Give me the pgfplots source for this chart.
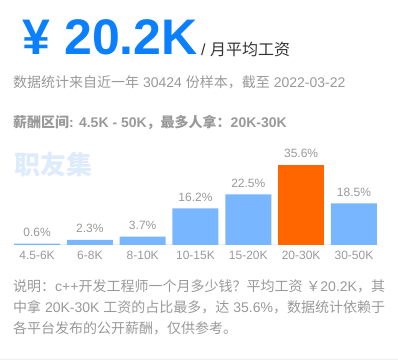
\documentclass[border=0pt]{standalone}
\usepackage{pgfplots}
\pgfplotsset{compat=1.18}
\usepackage{fontspec}
\setmainfont{Liberation Sans}
\newfontfamily\cjk{Noto Sans CJK SC}
\newcommand\zh[1]{{\cjk #1}}
\definecolor{bigblue}{HTML}{0A80FF}
\definecolor{barblue}{HTML}{78B7FF}
\definecolor{barorange}{HTML}{FF6600}
\definecolor{txtgray}{HTML}{999999}
\definecolor{wm}{HTML}{DDEBFB}
\definecolor{dark}{HTML}{333333}
\definecolor{lgray}{HTML}{EEEEEE}
\begin{document}
\begin{tikzpicture}
\useasboundingbox (0bp,0bp) rectangle (398bp,360bp);
\node[anchor=base west, inner sep=0, text=bigblue, font=\fontsize{50bp}{50bp}\selectfont\bfseries] at (22.5bp,305bp) {¥ 20.2K};
\node[anchor=base west, inner sep=0, text=dark, font=\fontsize{16bp}{18bp}\selectfont] at (201bp,304.5bp) {/ \zh{月平均工资}};
\node[anchor=base west, inner sep=0, text=txtgray, font=\fontsize{14bp}{16bp}\selectfont] at (13bp,272bp) {\zh{数据统计来自近一年} 30424 \zh{份样本，截至} 2022-03-22};
\node[anchor=base west, inner sep=0, text=txtgray, font=\fontsize{14bp}{16bp}\selectfont\bfseries] at (13bp,232bp) {\zh{薪酬区间}: 4.5K - 50K\zh{，最多人拿：}20K-30K};
\node[anchor=base west, inner sep=0, text=wm, font=\fontsize{26bp}{28bp}\selectfont\bfseries] at (14bp,185bp) {\zh{职友集}};
\begin{axis}[at={(10.6bp,115bp)}, anchor=south west, scale only axis,
  width=369.8bp, height=90.2bp,
  xmin=-0.5, xmax=6.5, ymin=0, ymax=40,
  ybar, bar shift=0pt, bar width=46bp,
  axis line style={draw=none}, major tick length=0pt, ytick=\empty,
  xtick={0,...,6},
  xticklabels={4.5-6K,6-8K,8-10K,10-15K,15-20K,20-30K,30-50K},
  xticklabel style={anchor=base, yshift=-15bp, inner sep=0, text=txtgray, font=\fontsize{12bp}{14bp}\selectfont},
  clip=false,
  nodes near coords={\pgfmathprintnumber[assume math mode=true,fixed,fixed zerofill,precision=1]{\pgfplotspointmeta}\%},
  every node near coord/.append style={anchor=base, yshift=7bp, inner sep=0, text=txtgray, font=\fontsize{12bp}{14bp}\selectfont}]
\draw[lgray, line width=1bp] (axis cs:-0.436,0) -- (axis cs:6.473,0);
\addplot[fill=barblue, draw=none] coordinates {(0,0.6)(1,2.3)(2,3.7)(3,16.2)(4,22.5)(6,18.5)};
\addplot[fill=barorange, draw=none] coordinates {(5,35.6)};
\end{axis}
\node[anchor=base west, inner sep=0, text=txtgray, font=\fontsize{14bp}{16bp}\selectfont] at (13bp,68bp) {\zh{说明：}c++\zh{开发工程师一个月多少钱？平均工资} \zh{￥}20.2K\zh{，其}};
\node[anchor=base west, inner sep=0, text=txtgray, font=\fontsize{14bp}{16bp}\selectfont] at (13bp,47.5bp) {\zh{中拿} 20K-30K \zh{工资的占比最多，达} 35.6\%\zh{，数据统计依赖于}};
\node[anchor=base west, inner sep=0, text=txtgray, font=\fontsize{14bp}{16bp}\selectfont] at (13bp,27bp) {\zh{各平台发布的公开薪酬，仅供参考。}};
\draw[lgray, line width=1bp] (0bp,0.5bp) -- (398bp,0.5bp);
\end{tikzpicture}
\end{document}
